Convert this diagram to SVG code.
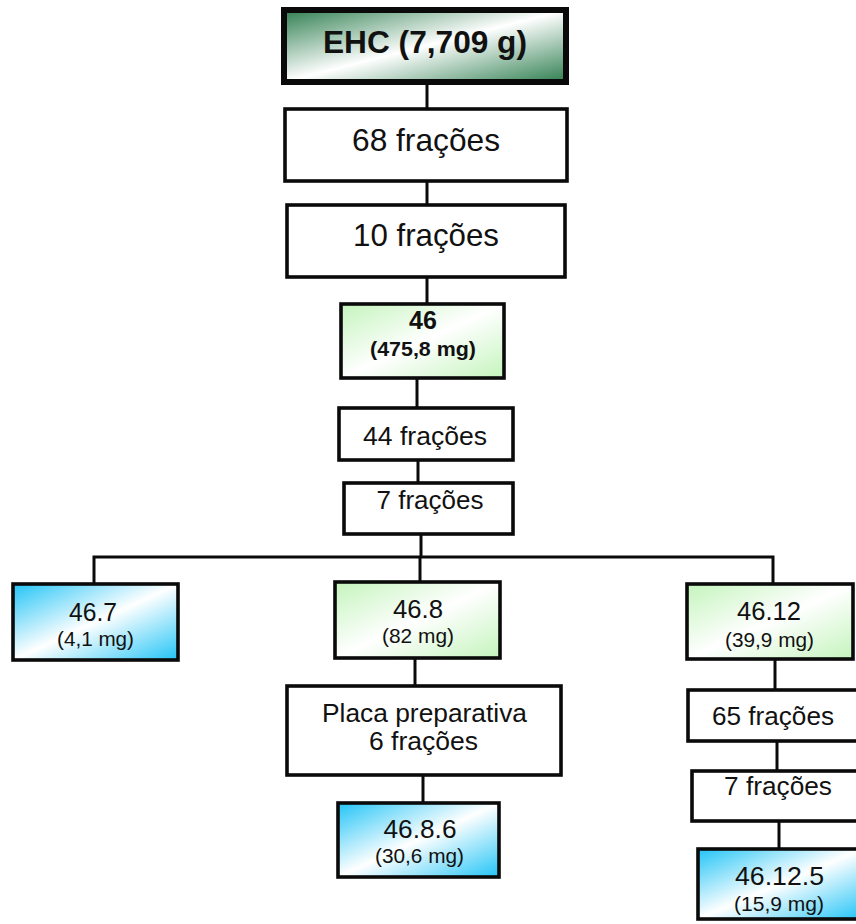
<svg xmlns="http://www.w3.org/2000/svg" width="856" height="924" viewBox="0 0 856 924">
<defs>
<linearGradient id="gDark" x1="0" y1="0" x2="1" y2="1">
<stop offset="0" stop-color="#2f7f50"/><stop offset="0.5" stop-color="#ffffff"/><stop offset="1" stop-color="#2f7f50"/>
</linearGradient>
<linearGradient id="gLight" x1="0" y1="0" x2="1" y2="1">
<stop offset="0" stop-color="#c4f4bc"/><stop offset="0.5" stop-color="#ffffff"/><stop offset="1" stop-color="#c4f4bc"/>
</linearGradient>
<linearGradient id="gBlue" x1="0" y1="0" x2="1" y2="1">
<stop offset="0" stop-color="#22c4f6"/><stop offset="0.5" stop-color="#ffffff"/><stop offset="1" stop-color="#22c4f6"/>
</linearGradient>
<style>
.box{stroke:#0a0a0a;stroke-width:3.6;fill:#fff}
.top{stroke:#0a0a0a;stroke-width:6;fill:url(#gDark)}
.lg{fill:url(#gLight)}
.bl{fill:url(#gBlue)}
.c{stroke:#0a0a0a;stroke-width:3;fill:none}
text{font-family:"Liberation Sans",Arial,sans-serif;fill:#111;text-anchor:middle}
.b{font-weight:bold}
.t31{font-size:32px}
.t24{font-size:26px}
.t18{font-size:20.5px}
</style>
</defs>
<g id="connectors">
<line class="c" x1="427" y1="84" x2="427" y2="108"/>
<line class="c" x1="427" y1="181" x2="427" y2="204"/>
<line class="c" x1="427" y1="278" x2="427" y2="303"/>
<line class="c" x1="417" y1="379" x2="417" y2="407"/>
<line class="c" x1="418" y1="461" x2="418" y2="482"/>
<line class="c" x1="421" y1="535" x2="421" y2="557"/>
<polyline class="c" points="94,583 94,557 773,557 773,583"/>
<line class="c" x1="420" y1="557" x2="420" y2="581"/>
<line class="c" x1="415" y1="659" x2="415" y2="685"/>
<line class="c" x1="423" y1="776" x2="423" y2="802"/>
<line class="c" x1="775" y1="660" x2="775" y2="689"/>
<line class="c" x1="777" y1="742" x2="777" y2="770"/>
<line class="c" x1="779" y1="822" x2="779" y2="848"/>
</g>
<g id="n-ehc">
<rect class="top" x="284" y="10" width="282" height="72"/>
<text class="b" x="425" y="53" font-size="31" textLength="204" lengthAdjust="spacingAndGlyphs">EHC (7,709 g)</text>
</g>
<g id="n-68">
<rect class="box" x="285" y="109" width="282" height="72"/>
<text class="t31" x="426" y="151" textLength="148" lengthAdjust="spacingAndGlyphs">68 frações</text>
</g>
<g id="n-10">
<rect class="box" x="287" y="205" width="278" height="72"/>
<text class="t31" x="426" y="246" textLength="146" lengthAdjust="spacingAndGlyphs">10 frações</text>
</g>
<g id="n-46">
<rect class="box lg" x="341" y="304" width="163" height="74"/>
<text class="b" x="423" y="329" font-size="25">46</text>
<text class="b" x="423" y="356" font-size="20.5" textLength="106" lengthAdjust="spacingAndGlyphs">(475,8 mg)</text>
</g>
<g id="n-44">
<rect class="box" x="339" y="408" width="174" height="52"/>
<text class="t24" x="425" y="445" textLength="124" lengthAdjust="spacingAndGlyphs">44 frações</text>
</g>
<g id="n-7a">
<rect class="box" x="344" y="483" width="169" height="51"/>
<text class="t24" x="430" y="509" textLength="107" lengthAdjust="spacingAndGlyphs">7 frações</text>
</g>
<g id="n-46-7">
<rect class="box bl" x="13" y="584" width="165" height="76"/>
<text class="t24" x="93" y="621" textLength="48" lengthAdjust="spacingAndGlyphs">46.7</text>
<text class="t18" x="95.5" y="646" textLength="77" lengthAdjust="spacingAndGlyphs">(4,1 mg)</text>
</g>
<g id="n-46-8">
<rect class="box lg" x="335" y="582" width="165" height="76"/>
<text class="t24" x="418" y="618" textLength="50" lengthAdjust="spacingAndGlyphs">46.8</text>
<text class="t18" x="418" y="643" textLength="72" lengthAdjust="spacingAndGlyphs">(82 mg)</text>
</g>
<g id="n-46-12">
<rect class="box lg" x="687" y="584" width="166" height="75"/>
<text class="t24" x="769" y="620" textLength="64" lengthAdjust="spacingAndGlyphs">46.12</text>
<text class="t18" x="769.5" y="647" textLength="89" lengthAdjust="spacingAndGlyphs">(39,9 mg)</text>
</g>
<g id="n-placa">
<rect class="box" x="287" y="686" width="274" height="89"/>
<text class="t24" x="424.5" y="722" textLength="205" lengthAdjust="spacingAndGlyphs">Placa preparativa</text>
<text class="t24" x="423.5" y="750" textLength="109" lengthAdjust="spacingAndGlyphs">6 frações</text>
</g>
<g id="n-46-8-6">
<rect class="box bl" x="338" y="803" width="161" height="74"/>
<text class="t24" x="420" y="838" textLength="73" lengthAdjust="spacingAndGlyphs">46.8.6</text>
<text class="t18" x="419.5" y="863" textLength="89" lengthAdjust="spacingAndGlyphs">(30,6 mg)</text>
</g>
<g id="n-65">
<rect class="box" x="688" y="690" width="174" height="51"/>
<text class="t24" x="773" y="725" textLength="122" lengthAdjust="spacingAndGlyphs">65 frações</text>
</g>
<g id="n-7b">
<rect class="box" x="692" y="771" width="170" height="50"/>
<text class="t24" x="778" y="795" textLength="108" lengthAdjust="spacingAndGlyphs">7 frações</text>
</g>
<g id="n-46-12-5">
<rect class="box bl" x="698" y="849" width="164" height="70"/>
<text class="t24" x="779.5" y="885" textLength="89" lengthAdjust="spacingAndGlyphs">46.12.5</text>
<text class="t18" x="779" y="911" textLength="90" lengthAdjust="spacingAndGlyphs">(15,9 mg)</text>
</g>
</svg>
